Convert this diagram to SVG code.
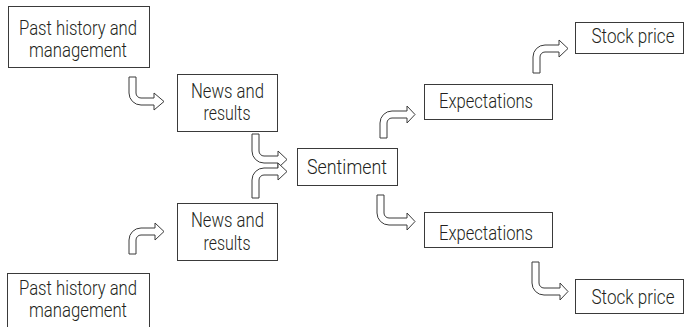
<svg xmlns="http://www.w3.org/2000/svg" width="685" height="327" viewBox="0 0 685 327">
<style>
.box{fill:#fff;stroke:#3a3a3a;stroke-width:1}
.arr{fill:#fff;stroke:#3a3a3a;stroke-width:1;stroke-linejoin:miter}
text{font-family:Roboto,"Liberation Sans",sans-serif;font-size:20px;font-weight:300;fill:#231f20;text-anchor:middle}
</style>
<rect width="685" height="327" fill="#fff"/>
<g id="connectors">
<path class="arr" d="M129 77 H136 V93 A5 5 0 0 0 141 98 H154 V93 L164 101.5 L154 110 V105 H141 A12 12 0 0 1 129 93 Z"/>
<path class="arr" d="M252 134 H259 V151 A5 5 0 0 0 264 156 H278 V151 L287 159.5 L278 168 V163 H264 A12 12 0 0 1 252 151 Z"/>
<path class="arr" d="M252 198 V180 A12 12 0 0 1 264 168 H278 V163 L287 171.5 L278 180 V175 H264 A5 5 0 0 0 259 180 V198 Z"/>
<path class="arr" d="M129 254 V240 A12 12 0 0 1 141 228 H155 V223 L164 231.5 L155 240 V235 H141 A5 5 0 0 0 136 240 V254 Z"/>
<path class="arr" d="M380 138 V123 A12 12 0 0 1 392 111 H407 V106 L415 114.5 L407 123 V118 H392 A5 5 0 0 0 387 123 V138 Z"/>
<path class="arr" d="M377 195 H384 V213 A5 5 0 0 0 389 218 H407 V213 L415 221.5 L407 230 V225 H389 A12 12 0 0 1 377 213 Z"/>
<path class="arr" d="M533 73 V57 A12 12 0 0 1 545 45 H559 V40 L568 48.5 L559 57 V52 H545 A5 5 0 0 0 540 57 V73 Z"/>
<path class="arr" d="M532 262 H539 V283 A5 5 0 0 0 544 288 H560 V283 L568 291.5 L560 300 V295 H544 A12 12 0 0 1 532 283 Z"/>
</g>
<g id="past-top">
<rect class="box" x="8.5" y="6.5" width="141" height="61"/>
<text x="78" y="35" textLength="118" lengthAdjust="spacingAndGlyphs">Past history and</text>
<text x="78" y="57" textLength="98" lengthAdjust="spacingAndGlyphs">management</text>
</g>
<g id="news-top">
<rect class="box" x="177.5" y="74.5" width="100" height="57"/>
<text x="227.5" y="98" textLength="73" lengthAdjust="spacingAndGlyphs">News and</text>
<text x="227" y="120" textLength="47" lengthAdjust="spacingAndGlyphs">results</text>
</g>
<g id="sentiment">
<rect class="box" x="297.5" y="148.5" width="100" height="37"/>
<text x="347" y="174" textLength="80" lengthAdjust="spacingAndGlyphs">Sentiment</text>
</g>
<g id="news-bottom">
<rect class="box" x="177.5" y="203.5" width="100" height="57"/>
<text x="227.5" y="227" textLength="73" lengthAdjust="spacingAndGlyphs">News and</text>
<text x="227" y="250" textLength="47" lengthAdjust="spacingAndGlyphs">results</text>
</g>
<g id="past-bottom">
<rect class="box" x="7.5" y="273.5" width="142" height="62"/>
<text x="78" y="295" textLength="118" lengthAdjust="spacingAndGlyphs">Past history and</text>
<text x="78" y="317" textLength="98" lengthAdjust="spacingAndGlyphs">management</text>
</g>
<g id="expectations-top">
<rect class="box" x="424.5" y="84.5" width="128" height="35"/>
<text x="486" y="108" textLength="94" lengthAdjust="spacingAndGlyphs">Expectations</text>
</g>
<g id="expectations-bottom">
<rect class="box" x="424.5" y="212.5" width="128" height="35"/>
<text x="486" y="240" textLength="94" lengthAdjust="spacingAndGlyphs">Expectations</text>
</g>
<g id="stock-top">
<rect class="box" x="575.5" y="22.5" width="108" height="31"/>
<text x="633" y="43" textLength="83" lengthAdjust="spacingAndGlyphs">Stock price</text>
</g>
<g id="stock-bottom">
<rect class="box" x="575.5" y="279.5" width="108" height="34"/>
<text x="633" y="304" textLength="83" lengthAdjust="spacingAndGlyphs">Stock price</text>
</g>
</svg>
